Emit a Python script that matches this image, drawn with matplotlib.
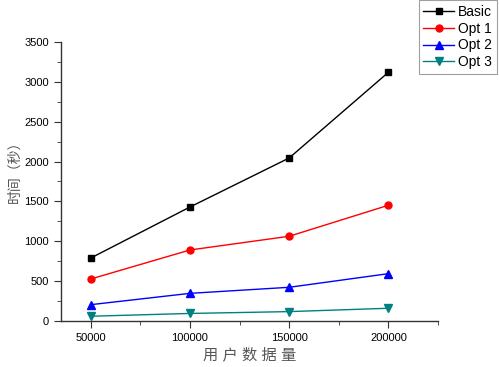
import matplotlib
matplotlib.use("Agg")
import matplotlib.pyplot as plt
from matplotlib.ticker import MultipleLocator

plt.rcParams['font.family'] = ['Liberation Sans', 'Noto Sans CJK SC', 'DejaVu Sans']

# data
users = [50000, 100000, 150000, 200000]
basic = [790, 1430, 2045, 3120]
opt1 = [527, 891, 1063, 1452]
opt2 = [205, 347, 423, 594]
opt3 = [60, 95, 118, 160]
series_names = ['Basic', 'Opt 1', 'Opt 2', 'Opt 3']

fig = plt.figure(figsize=(4.99, 3.67), dpi=100)
ax = fig.add_axes([0.1222, 0.1253, 0.7556, 0.7603])

styles = [('black', 's', 4.5), ('red', 'o', 5), ('blue', '^', 5.5), ('#008080', 'v', 5.5)]
for vals, name, (c, m, ms) in zip([basic, opt1, opt2, opt3], series_names, styles):
    ax.plot(users, vals, color=c, marker=m, markersize=ms, linewidth=1, label=name)

ax.set_xlim(35000, 225000)
ax.set_ylim(0, 3500)
ax.set_xticks(users)
ax.xaxis.set_minor_locator(MultipleLocator(25000))
ax.yaxis.set_major_locator(MultipleLocator(500))
ax.yaxis.set_minor_locator(MultipleLocator(250))

for s in ['top', 'right']:
    ax.spines[s].set_visible(False)
for s in ['left', 'bottom']:
    ax.spines[s].set_color('#333333')
    ax.spines[s].set_linewidth(1)
ax.tick_params(which='both', direction='out', colors='#333333', labelsize=8, labelcolor='black')
ax.tick_params(which='major', length=5)
ax.tick_params(which='minor', length=3)

ax.set_xlabel('用 户 数 据 量', fontsize=11, color='#555555')
ax.xaxis.set_label_coords(0.5, -0.095)
# y label placed on the figure so it sits where the reference has it
fig.text(15 / 499, 1 - 168 / 367, '时间（秒）', rotation=90, ha='center', va='center',
         fontsize=10, color='#555555')

leg = fig.legend(loc='upper right', bbox_to_anchor=(0.996, 1.0), fontsize=10,
                 frameon=True, fancybox=False, edgecolor='#888888',
                 handlelength=2.2, handletextpad=0.3, borderpad=0.35,
                 labelspacing=0.2, borderaxespad=0)
leg.get_frame().set_linewidth(0.8)

fig.savefig('out.png', dpi=100)
